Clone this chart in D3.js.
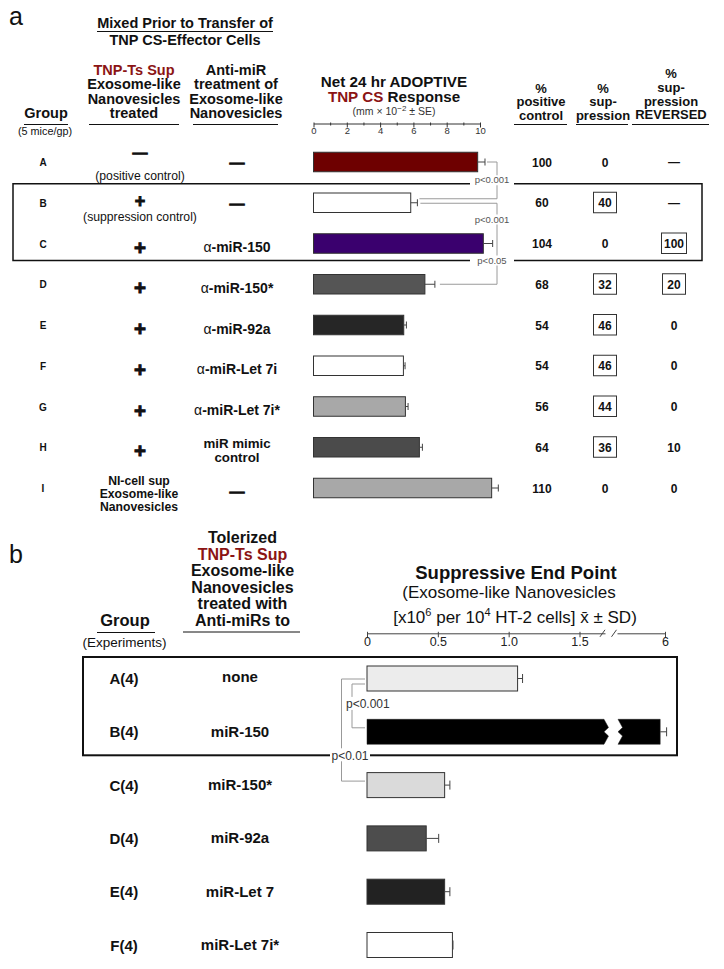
<!DOCTYPE html>
<html><head><meta charset="utf-8">
<script src="https://cdn.jsdelivr.net/npm/d3@7"></script>
<style>
body{margin:0;background:#fff}
svg{display:block}
text{font-family:"Liberation Sans",Arial,Helvetica,sans-serif}
</style>
</head><body>
<svg id="c" width="724" height="969"></svg>
<script>
// ---------------- DATA ----------------
// Panel a
const groupsA = ["A","B","C","D","E","F","G","H","I"];
const supNanoA = ["—","+","+","+","+","+","+","+","NI-cell sup|Exosome-like|Nanovesicles"];
const notesA = ["(positive control)","(suppression control)","","","","","","",""];
const antiMiRA = ["—","—","α-miR-150","α-miR-150*","α-miR-92a","α-miR-Let 7i","α-miR-Let 7i*","miR mimic|control","—"];
const responseA = [9.86, 5.84, 10.2, 6.69, 5.42, 5.40, 5.52, 6.36, 10.7];
const seA = [0.44, 0.40, 0.56, 0.60, 0.16, 0.10, 0.16, 0.18, 0.40];
const pctPositive = ["100","60","104","68","54","54","56","64","110"];
const pctSuppression = ["0","40","0","32","46","46","44","36","0"];
const pctReversed = ["—","—","100","20","0","0","0","10","0"];
const boxedSuppression = [false,true,false,true,true,true,true,true,false];
const boxedReversed = [false,false,true,true,false,false,false,false,false];
const tickLabelsA = [0,2,4,6,8,10];
const pValuesA = ["p<0.001","p<0.001","p<0.05"];

// Panel b
const groupsB = ["A(4)","B(4)","C(4)","D(4)","E(4)","F(4)"];
const antiMiRB = ["none","miR-150","miR-150*","miR-92a","miR-Let 7","miR-Let 7i*"];
const endPointB = [1.063, 5.97, 0.548, 0.418, 0.548, 0.603];
const sdB = [0.035, 0.04, 0.037, 0.088, 0.037, 0.004];
const tickValuesB = [0, 0.5, 1.0, 1.5, 6];
const tickLabelsB = ["0","0.5","1.0","1.5","6"];
const pValuesB = ["p<0.001","p<0.01"];

// ---------------- STYLE ----------------
const fillsA = ["#6e0000","#ffffff","#3a006e","#555555","#262626","#ffffff","#a8a8a8","#4b4b4b","#a8a8a8"];
const fillsB = ["#ececec","#000000","#dadada","#4d4d4d","#222222","#ffffff"];
const RED = "#8b1414";
const INK = "#111";

const svg = d3.select("#c");

function T(g, x, y, s, size, weight, anchor, fill) {
  return g.append("text").attr("x", x).attr("y", y)
    .attr("font-size", size).attr("font-weight", weight || "normal")
    .attr("text-anchor", anchor || "middle").attr("fill", fill || INK).text(s);
}
function lines(g, x, y0, arr, lh, size, weight, fill) {
  arr.forEach((s, i) => T(g, x, y0 + i * lh, s, size, weight, "middle", fill));
}
function hline(g, x1, x2, y, w, c) {
  g.append("line").attr("x1", x1).attr("x2", x2).attr("y1", y).attr("y2", y)
    .attr("stroke", c || INK).attr("stroke-width", w || 1);
}

// =============== PANEL A ===============
const gA = svg.append("g");
const xA = d3.scaleLinear().domain([0, 10]).range([313.5, 480]);
const yA = d3.scalePoint().domain(groupsA).range([162, 488]);
const barHA = 19.5;

T(gA, 9, 25, "a", 25, "normal", "start");
T(gA, 185, 28, "Mixed Prior to Transfer of", 14.5, "bold");
hline(gA, 97, 273, 31.5, 1);
T(gA, 185, 45, "TNP CS-Effector Cells", 14.5, "bold");

T(gA, 134, 75, "TNP-Ts Sup", 14.5, "bold", "middle", RED);
lines(gA, 134, 89.3, ["Exosome-like","Nanovesicles","treated"], 14.3, 14.5, "bold");
hline(gA, 89, 179, 124.5, 1);
lines(gA, 236, 75, ["Anti-miR","treatment of","Exosome-like","Nanovesicles"], 14.3, 14.5, "bold");
hline(gA, 193, 278, 124.5, 1);
T(gA, 46, 118, "Group", 14.5, "bold");
hline(gA, 24, 68, 124.5, 1);
T(gA, 45, 135, "(5 mice/gp)", 10.8);

// chart header
T(gA, 394, 86.7, "Net 24 hr ADOPTIVE", 15.2, "bold");
const t2 = gA.append("text").attr("x", 394).attr("y", 102.3).attr("font-size", 15.2)
  .attr("font-weight", "bold").attr("text-anchor", "middle");
t2.append("tspan").attr("fill", RED).text("TNP CS");
t2.append("tspan").attr("fill", INK).text(" Response");
const t3 = gA.append("text").attr("x", 394).attr("y", 115).attr("font-size", 10.5)
  .attr("text-anchor", "middle").attr("fill", "#333");
t3.append("tspan").text("(mm × 10");
t3.append("tspan").attr("dy", -4).attr("font-size", 8).text("−2");
t3.append("tspan").attr("dy", 4).text(" ± SE)");

// % columns headers
const cP = 541, cS = 603, cR = 671;
lines(gA, cP, 92.5, ["%","positive","control"], 13.5, 13, "bold");
hline(gA, 514, 567, 124.5, 1);
lines(gA, cS, 92.5, ["%","sup-","pression"], 13.5, 13, "bold");
hline(gA, 576, 628, 124.5, 1);
lines(gA, cR, 78, ["%","sup-","pression","REVERSED"], 13.8, 13, "bold");
hline(gA, 632, 709, 124.5, 1);

// axis
const axA = gA.append("g").attr("transform", "translate(0,123.5)")
  .call(d3.axisBottom(xA).tickValues(d3.range(0, 11)).tickSize(4).tickSizeOuter(0).tickPadding(0)
    .tickFormat(d => tickLabelsA.includes(d) ? d : ""));
axA.select(".domain").attr("stroke", "#333");
axA.selectAll(".tick line").attr("stroke", "#333").attr("y1", -1)
  .attr("y2", d => tickLabelsA.includes(d) ? 4 : 2);
axA.selectAll(".tick text").attr("font-size", 9.5).attr("fill", "#333")
  .attr("font-family", "'Liberation Sans',Arial,sans-serif");

// box around B-C
const boxTopA = yA("B") - 19, boxBotA = yA("C") + 17;
gA.append("rect").attr("x", 13).attr("y", boxTopA).attr("width", 689).attr("height", boxBotA - boxTopA)
  .attr("fill", "none").attr("stroke", INK).attr("stroke-width", 1.5);

// brackets
const bx = xA(10) + 17;
const errEnd = i => xA(responseA[i] + seA[i]);
gA.append("path").attr("fill", "none").attr("stroke", "#9a9a9a").attr("stroke-width", 1)
  .attr("d", `M${errEnd(0) + 2},${yA("A")}H${bx}V${yA("B") - 4}H${errEnd(1) + 2}`);
gA.append("path").attr("fill", "none").attr("stroke", "#9a9a9a").attr("stroke-width", 1)
  .attr("d", `M${errEnd(1) + 3},${yA("B") + 0.5}H${bx}V${yA("D")}H${errEnd(3) + 5}`);

// p labels with white background
const pPosA = [[492, boxTopA - 0.5], [492, 222.5], [492, boxBotA + 3]];
pValuesA.forEach((p, i) => {
  const [px, py] = pPosA[i];
  gA.append("rect").attr("x", px - 22).attr("y", py - 8).attr("width", 44).attr("height", 10).attr("fill", "#fff");
  T(gA, px, py, p, 9.5, "normal", "middle", "#555");
});

// bars
groupsA.forEach((g, i) => {
  const yc = yA(g);
  gA.append("rect").attr("x", xA(0)).attr("y", yc - barHA / 2)
    .attr("width", xA(responseA[i]) - xA(0)).attr("height", barHA)
    .attr("fill", fillsA[i]).attr("stroke", "#333").attr("stroke-width", 1);
  const x1 = xA(responseA[i]), x2 = xA(responseA[i] + seA[i]);
  hline(gA, x1, x2, yc, 1, "#444");
  gA.append("line").attr("x1", x2).attr("x2", x2).attr("y1", yc - 3.5).attr("y2", yc + 3.5)
    .attr("stroke", "#444").attr("stroke-width", 1);
});

// row labels
groupsA.forEach((g, i) => {
  const yc = yA(g);
  T(gA, 43, yc + 4, g, 10, "bold");
  // column 2
  const s2 = supNanoA[i];
  if (s2 === "+") {
    if (notesA[i]) {
      T(gA, 140, yc + 4.5, "+", 18, "bold").attr("stroke", INK).attr("stroke-width", 0.9);
    } else {
      T(gA, 140, yc + 11, "+", 20.5, "bold").attr("stroke", INK).attr("stroke-width", 0.9);
    }
  } else if (s2 === "—") {
    T(gA, 140, yc - 4, "—", 15, "bold").attr("stroke", INK).attr("stroke-width", 0.9);
  } else {
    lines(gA, 139, yc - 3, s2.split("|"), 12.8, 12.2, "bold");
  }
  if (notesA[i]) T(gA, 140, yc + (i === 0 ? 17.5 : 18.3), notesA[i], 12.2);
  // column 3
  const s3 = antiMiRA[i];
  if (s3 === "—") {
    T(gA, 237, yc + (i === 8 ? 9 : 6), "—", 15, "bold").attr("stroke", INK).attr("stroke-width", 0.9);
  } else if (s3.includes("|")) {
    lines(gA, 237, yc + 0.5, s3.split("|"), 14, 13.3, "bold");
  } else {
    const t = gA.append("text").attr("x", 237).attr("y", yc + 8.5).attr("font-size", 14)
      .attr("text-anchor", "middle").attr("fill", INK);
    t.append("tspan").attr("font-weight", "normal").text(s3.slice(0, 1));
    t.append("tspan").attr("font-weight", "bold").text(s3.slice(1));
  }
  // values
  T(gA, cP + 1, yc + 4.5, pctPositive[i], 12, "bold");
  T(gA, cS + 2, yc + 4.5, pctSuppression[i], 12, "bold");
  if (boxedSuppression[i]) {
    gA.append("rect").attr("x", cS + 2 - 11.5).attr("y", yc - 10.5).attr("width", 23).attr("height", 20.5)
      .attr("fill", "none").attr("stroke", "#333").attr("stroke-width", 1);
  }
  const rv = pctReversed[i];
  if (rv === "—") {
    T(gA, cR + 3, yc + 4, "—", 12, "bold");
  } else {
    T(gA, cR + 3, yc + 4.5, rv, 12, "bold");
  }
  if (boxedReversed[i]) {
    const w = rv.length > 2 ? 25 : 23;
    gA.append("rect").attr("x", cR + 3 - w / 2).attr("y", yc - 10.5).attr("width", w).attr("height", 20.5)
      .attr("fill", "none").attr("stroke", "#333").attr("stroke-width", 1);
  }
});

// =============== PANEL B ===============
const gB = svg.append("g");
const lin1 = d3.scaleLinear().domain([0, 1.68]).range([367, 605]);
const lin2 = d3.scaleLinear().domain([5.7, 6]).range([617, 665]);
const xB = v => v <= 1.68 ? lin1(v) : lin2(v);
const yB = d3.scalePoint().domain(groupsB).range([678.5, 945]);
const barHB = 25;

T(gB, 9, 563, "b", 25, "normal", "start");
T(gB, 242.5, 543, "Tolerized", 16, "bold");
T(gB, 242.5, 559.5, "TNP-Ts Sup", 16, "bold", "middle", RED);
lines(gB, 242.5, 576, ["Exosome-like","Nanovesicles","treated with","Anti-miRs to"], 16.5, 16, "bold");
hline(gB, 183, 300, 632, 1);
T(gB, 125, 626, "Group", 16.5, "bold");
hline(gB, 97, 155, 632.5, 1);
T(gB, 124.5, 646.5, "(Experiments)", 13.5);

T(gB, 516, 579, "Suppressive End Point", 18.5, "bold");
T(gB, 509, 598, "(Exosome-like Nanovesicles", 17);
const tb = gB.append("text").attr("x", 515).attr("y", 622.5).attr("font-size", 17)
  .attr("text-anchor", "middle").attr("fill", INK);
tb.append("tspan").text("[x10");
tb.append("tspan").attr("dy", -7).attr("font-size", 11).text("6");
tb.append("tspan").attr("dy", 7).text(" per 10");
tb.append("tspan").attr("dy", -7).attr("font-size", 11).text("4");
tb.append("tspan").attr("dy", 7).text(" HT-2 cells] x\u0304 ± SD)");

// broken axis
const axY = 633.3;
function styleAxis(ax) {
  ax.select(".domain").attr("stroke", "#444");
  ax.selectAll(".tick line").attr("stroke", "#444").attr("y1", -1.5);
  ax.selectAll(".tick text").attr("font-size", 12.5).attr("fill", "#222")
    .attr("font-family", "'Liberation Sans',Arial,sans-serif");
}
const ax1 = gB.append("g").attr("transform", `translate(0,${axY})`)
  .call(d3.axisBottom(lin1).tickValues(tickValuesB.filter(v => v <= 1.68)).tickSize(4).tickSizeOuter(0).tickPadding(0)
    .tickFormat(d => tickLabelsB[tickValuesB.indexOf(d)]));
styleAxis(ax1);
const ax2 = gB.append("g").attr("transform", `translate(0,${axY})`)
  .call(d3.axisBottom(lin2).tickValues(tickValuesB.filter(v => v > 1.68)).tickSize(4).tickSizeOuter(0).tickPadding(0)
    .tickFormat(d => tickLabelsB[tickValuesB.indexOf(d)]));
styleAxis(ax2);
[lin1.range()[1] - 2.5, lin2.range()[0] - 3].forEach(sx => {
  gB.append("line").attr("x1", sx - 2.5).attr("x2", sx + 2.5).attr("y1", axY + 3.5).attr("y2", axY - 3.5)
    .attr("stroke", "#444").attr("stroke-width", 1);
});

// box around A-B
const boxTopB = yB("A(4)") - 21.5, boxBotB = yB("B(4)") + 23.5;
gB.append("rect").attr("x", 83).attr("y", boxTopB).attr("width", 594).attr("height", boxBotB - boxTopB)
  .attr("fill", "none").attr("stroke", INK).attr("stroke-width", 2);

// brackets
const bL = xB(0) - 2;
gB.append("path").attr("fill", "none").attr("stroke", "#999").attr("stroke-width", 1)
  .attr("d", `M${bL},${yB("A(4)") + 0.5}H${bL - 23.5}V${yB("C(4)") - 4}H${bL}`);
const innerTop = yB("A(4)") + 5.5, innerBot = yB("B(4)") - 4;
gB.append("path").attr("fill", "none").attr("stroke", "#999").attr("stroke-width", 1)
  .attr("d", `M${bL},${innerTop}H${bL - 13}V${innerBot}H${bL}`);
const pMid = (innerTop + innerBot) / 2;
gB.append("rect").attr("x", 345).attr("y", pMid - 9).attr("width", 44).attr("height", 13).attr("fill", "#fff");
T(gB, 346, pMid + 2.5, pValuesB[0], 12, "normal", "start", "#333");
gB.append("rect").attr("x", 330).attr("y", boxBotB - 7).attr("width", 40).attr("height", 13).attr("fill", "#fff");
T(gB, 350, boxBotB + 4.5, pValuesB[1], 12, "normal", "middle", "#333");

// bars
groupsB.forEach((g, i) => {
  const yc = yB(g), top = yc - barHB / 2, bot = yc + barHB / 2;
  const v = endPointB[i];
  if (v > 1.68) {
    const xL = lin1(1.68) - 1, xR = lin2(5.7) + 1, xE = xB(v), z = 4.5;
    gB.append("path").attr("fill", fillsB[i]).attr("stroke", "#222").attr("stroke-width", 0.5)
      .attr("d", `M${xB(0)},${top}H${xL}L${xL + z},${top + barHB * 0.33}L${xL},${yc}L${xL + z},${top + barHB * 0.67}L${xL},${bot}H${xB(0)}Z`);
    gB.append("path").attr("fill", fillsB[i]).attr("stroke", "#222").attr("stroke-width", 0.5)
      .attr("d", `M${xR},${top}L${xR + z},${top + barHB * 0.33}L${xR},${yc}L${xR + z},${top + barHB * 0.67}L${xR},${bot}H${xE}V${top}Z`);
  } else {
    gB.append("rect").attr("x", xB(0)).attr("y", top).attr("width", xB(v) - xB(0)).attr("height", barHB)
      .attr("fill", fillsB[i]).attr("stroke", "#333").attr("stroke-width", 1);
  }
  const x1 = xB(v), x2 = xB(v + sdB[i]);
  hline(gB, x1, x2, yc, 1, "#444");
  gB.append("line").attr("x1", x2).attr("x2", x2).attr("y1", yc - 4.5).attr("y2", yc + 4.5)
    .attr("stroke", "#444").attr("stroke-width", 1);

  T(gB, 124, yc + 5.5, g, 15, "bold");
  T(gB, 240, yc + (i === 0 ? 3.5 : 5), antiMiRB[i], 15, "bold");
});
</script>
</body></html>
